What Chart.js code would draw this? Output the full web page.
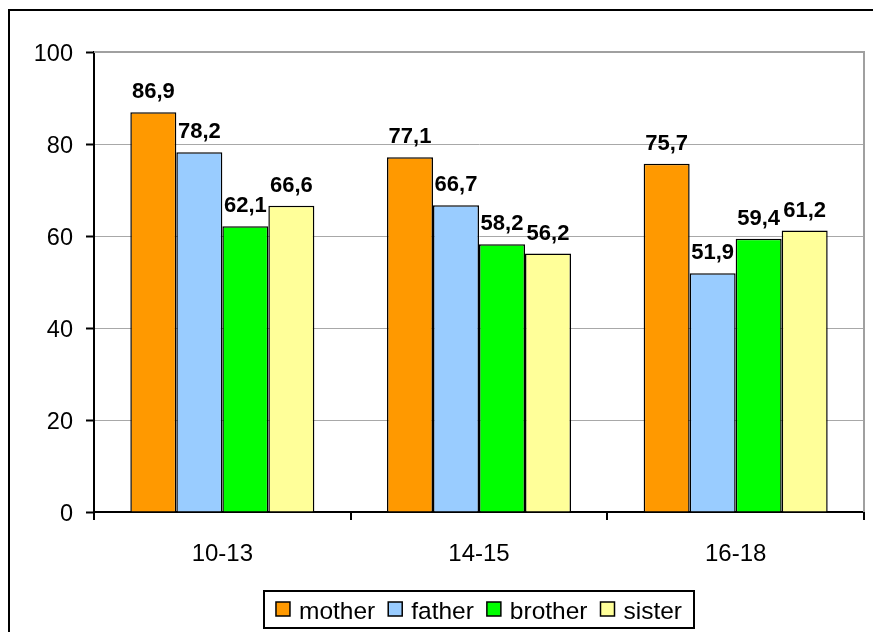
<!DOCTYPE html>
<html>
<head>
<meta charset="utf-8">
<script src="https://cdn.jsdelivr.net/npm/chart.js@4.4.1/dist/chart.umd.min.js"></script>
<style>
  html, body { margin: 0; padding: 0; background: #fff; }
  #wrap { width: 873px; height: 632px; }
</style>
</head>
<body>
<div id="wrap"><canvas id="myChart" width="873" height="632"></canvas></div>
<script>
// data
var ages    = ['10-13', '14-15', '16-18'];
var mother  = [86.9, 77.1, 75.7];
var father  = [78.2, 66.7, 51.9];
var brother = [62.1, 58.2, 59.4];
var sister  = [66.6, 56.2, 61.2];
var yTicks  = [0, 20, 40, 60, 80, 100];

var font = 'Liberation Sans, Arial, sans-serif';

// outer frame + grey plot area border
var framePlugin = {
    id: 'frame',
    beforeDraw: function (chart) {
        var c = chart.ctx;
        c.save();
        c.fillStyle = '#fff';
        c.fillRect(0, 0, chart.width, chart.height);
        c.strokeStyle = '#000';
        c.lineWidth = 2;
        c.strokeRect(9, 10, chart.width + 20, chart.height + 20);
        c.restore();
    },
    afterDatasetsDraw: function (chart) {
        var a = chart.chartArea, c = chart.ctx;
        c.save();
        c.strokeStyle = '#a0a0a0';
        c.lineWidth = 2;
        c.beginPath();
        c.moveTo(a.left, a.top);
        c.lineTo(a.right, a.top);
        c.lineTo(a.right, a.bottom);
        c.stroke();
        c.restore();
    }
};

// value labels above bars
var labelPlugin = {
    id: 'barLabels',
    afterDatasetsDraw: function (chart) {
        var c = chart.ctx;
        c.save();
        c.font = 'bold 22px ' + font;
        c.fillStyle = '#000';
        c.textAlign = 'center';
        c.textBaseline = 'middle';
        chart.data.datasets.forEach(function (ds, i) {
            chart.getDatasetMeta(i).data.forEach(function (bar, j) {
                var txt = ds.data[j].toFixed(1).replace('.', ',');
                c.fillText(txt, bar.x, bar.y - 20);
            });
        });
        c.restore();
    }
};

// excel style legend with a box around it
var legendPlugin = {
    id: 'boxLegend',
    afterDraw: function (chart) {
        var c = chart.ctx, a = chart.chartArea;
        c.save();
        c.font = '24.5px ' + font;
        var box = 14, gapText = 9, gapItem = 13;
        var total = 0;
        var widths = chart.data.datasets.map(function (ds) {
            var w = c.measureText(ds.label).width;
            total += box + gapText + w;
            return w;
        });
        total += gapItem * (widths.length - 1);
        var cx = (a.left + a.right) / 2;
        var x = cx - total / 2;
        c.strokeStyle = '#000';
        c.lineWidth = 2;
        c.strokeRect(cx - 215, 591, 430, 37);
        c.textBaseline = 'middle';
        chart.data.datasets.forEach(function (ds, i) {
            c.fillStyle = ds.backgroundColor;
            c.fillRect(x, 602, box, box);
            c.lineWidth = 1.5;
            c.strokeRect(x, 602, box, box);
            c.fillStyle = '#000';
            c.fillText(ds.label, x + box + gapText, 612);
            x += box + gapText + widths[i] + gapItem;
        });
        c.restore();
    }
};

var chartdata = {
    labels: ages,
    datasets: [
        { label: 'mother',  data: mother,  backgroundColor: '#FF9900' },
        { label: 'father',  data: father,  backgroundColor: '#99CCFF' },
        { label: 'brother', data: brother, backgroundColor: '#00FF00' },
        { label: 'sister',  data: sister,  backgroundColor: '#FFFF99' }
    ]
};
chartdata.datasets.forEach(function (ds) {
    ds.borderColor = '#000';
    ds.borderWidth = 1.5;
    ds.categoryPercentage = 0.717;
    ds.barPercentage = 1;
});

var ctx = document.getElementById('myChart');
var barGraph = new Chart(ctx, {
    type: 'bar',
    data: chartdata,
    plugins: [framePlugin, labelPlugin, legendPlugin],
    options: {
        responsive: false,
        animation: false,
        layout: { padding: { left: 0, top: 52, right: 9, bottom: 0 } },
        plugins: { legend: { display: false }, tooltip: { enabled: false } },
        scales: {
            x: {
                grid: { offset: true, drawOnChartArea: false, drawTicks: true, tickLength: 8, color: '#000', lineWidth: 2 },
                border: { color: '#000', width: 2 },
                ticks: { color: '#000', font: { family: font, size: 24 }, padding: 20 },
                afterFit: function (s) { s.height = 120; }
            },
            y: {
                min: 0,
                max: 100,
                afterBuildTicks: function (s) { s.ticks = yTicks.map(function (v) { return { value: v }; }); },
                grid: { color: '#a8a8a8', lineWidth: 1, tickColor: '#000', tickLength: 8, tickWidth: 2 },
                border: { color: '#000', width: 2 },
                ticks: { color: '#000', font: { family: font, size: 23.5 }, padding: 13, labelOffset: 3 },
                afterFit: function (s) { s.width = 94; }
            }
        }
    }
});
</script>
</body>
</html>
